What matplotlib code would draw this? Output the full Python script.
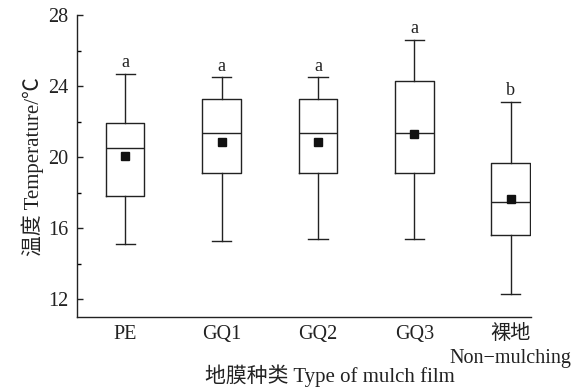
import matplotlib
matplotlib.use("Agg")
import matplotlib.pyplot as plt
from matplotlib.ticker import MultipleLocator

plt.rcParams['font.family'] = ['Liberation Serif', 'Noto Sans CJK SC', 'DejaVu Sans']
plt.rcParams['axes.unicode_minus'] = False

# data
groups = ['PE', 'GQ1', 'GQ2', 'GQ3', '裸地\nNon\u2212mulching']
whis_lo = [15.1, 15.3, 15.4, 15.4, 12.3]
q1 = [17.8, 19.1, 19.1, 19.1, 15.6]
median = [20.5, 21.35, 21.35, 21.35, 17.5]
q3 = [21.9, 23.3, 23.3, 24.3, 19.7]
whis_hi = [24.7, 24.5, 24.5, 26.6, 23.1]
mean = [20.05, 20.85, 20.85, 21.3, 17.65]
letters = ['a', 'a', 'a', 'a', 'b']

stats = []
for i, g in enumerate(groups):
    stats.append(dict(label=g, whislo=whis_lo[i], q1=q1[i], med=median[i],
                      q3=q3[i], whishi=whis_hi[i], mean=mean[i], fliers=[]))

fig = plt.figure(figsize=(5.82, 3.88), dpi=100)
ax = fig.add_axes([0.1323, 0.183, 0.78, 0.778])

lw = 1.0
ax.bxp(stats, positions=range(len(groups)), widths=0.4, showmeans=True,
       boxprops=dict(color='#222222', linewidth=lw),
       whiskerprops=dict(color='#222222', linewidth=lw),
       capprops=dict(color='#222222', linewidth=lw),
       medianprops=dict(color='#222222', linewidth=lw),
       meanprops=dict(marker='s', markerfacecolor='#111111', markeredgecolor='#111111', markersize=5.5),
       capwidths=0.2)

for i, t in enumerate(letters):
    ax.annotate(t, (i, whis_hi[i]), xytext=(0, 2), textcoords='offset points',
                ha='center', va='bottom', fontsize=13, color='#222222')

ax.set_xlim(-0.5, 4.21)
ax.set_ylim(11, 28)
ax.set_yticks([12, 16, 20, 24, 28])
ax.yaxis.set_minor_locator(MultipleLocator(2))

for s in ['top', 'right']:
    ax.spines[s].set_visible(False)
for s in ['left', 'bottom']:
    ax.spines[s].set_linewidth(lw)
    ax.spines[s].set_color('#222222')

ax.tick_params(axis='y', which='major', direction='in', length=4.5, width=lw, pad=6, labelsize=14.5, colors='#222222')
ax.tick_params(axis='y', which='minor', direction='in', length=3, width=lw)
ax.tick_params(axis='x', length=0, pad=6, labelsize=14.5, colors='#222222')
for lab in ax.get_xticklabels():
    lab.set_linespacing(1.3)
for lab in ax.get_yticklabels():
    lab.set_va('center_baseline')

ax.set_ylabel('温度 Temperature/℃', fontsize=15, color='#222222', labelpad=3)
fig.text(330 / 582, 1 - 376 / 388, '地膜种类 Type of mulch film', ha='center', va='center',
         fontsize=15, color='#222222')

fig.savefig('out.png', dpi=100)
